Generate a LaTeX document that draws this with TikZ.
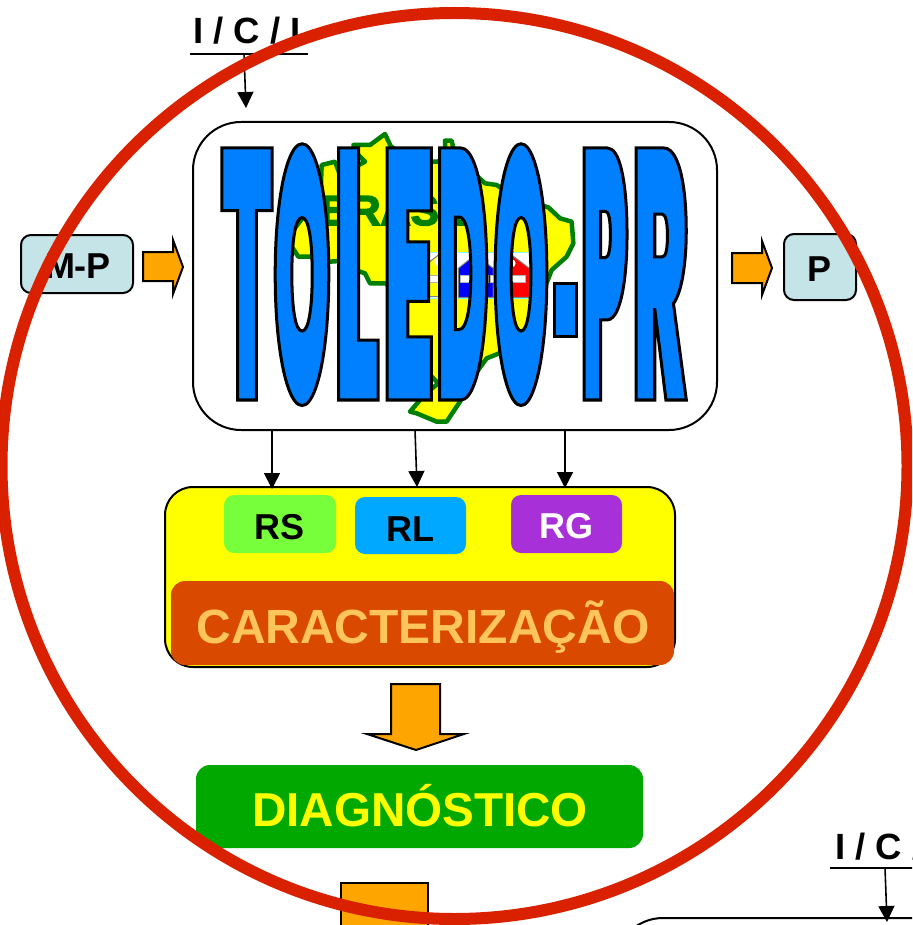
\documentclass[tikz,border=0pt]{standalone}
\usepackage{fontspec}
\setmainfont{Liberation Sans}
\usetikzlibrary{arrows.meta}
\definecolor{yellow}{HTML}{FFFF00}
\definecolor{wablue}{HTML}{0080FF}
\definecolor{ringred}{HTML}{D92100}
\definecolor{palecyan}{HTML}{C4E4E8}
\definecolor{blockorange}{HTML}{FFA500}
\definecolor{mapgreen}{HTML}{008000}
\definecolor{rsgreen}{HTML}{76FF3A}
\definecolor{rlblue}{HTML}{00A8FF}
\definecolor{rgpurple}{HTML}{A830D8}
\definecolor{carbg}{HTML}{D94A00}
\definecolor{cartext}{HTML}{FFC55A}
\definecolor{diagbg}{HTML}{00A800}
\definecolor{stripcyan}{HTML}{80FFFF}
\definecolor{stripgreen}{HTML}{60B080}
\newsavebox{\wabox}
% name, centre x, width, letter, font size, baseline y
\newcommand{\wordart}[6]{%
  \node[inner sep=0pt,outer sep=0pt,anchor=base] (#1) at (#2,#6)
    {\sbox{\wabox}{\fontspec{Poppins Black}\fontsize{#5}{#5}\selectfont #4}%
     \pgfmathsetmacro{\waratio}{#3/\the\wd\wabox}%
     \edef\wafam{\noexpand\fontspec[FakeStretch=\waratio]{Poppins Black}}\wafam\fontsize{#5}{#5}\selectfont\color{wablue}\special{pdf:code 0 0 0 RG 3 w 2 Tr}#4\special{pdf:code 0 Tr}};}
\tikzset{
  x=1pt,y=-1pt,
  labelbox/.style={draw=black,line width=2pt,outer sep=0pt,rounded corners=10pt,inner sep=0pt,anchor=north west},
  softbox/.style={rounded corners=10pt,outer sep=0pt,inner sep=0pt,anchor=north west},
  bigtext/.style={inner sep=0pt,anchor=base,font=\bfseries\fontsize{36}{36}\selectfont},
  wire/.style={draw=black,line width=1.6pt,-{Triangle[width=16pt,length=16pt]}},
  rule/.style={draw=black,line width=1.6pt},
  blockarrow/.style={draw=black,line width=2pt,fill=blockorange,miter limit=10},
  mapshape/.style={draw=mapgreen,line width=4.5pt,fill=yellow,line join=round}
}
\begin{document}
\begin{tikzpicture}
\useasboundingbox (0,0) rectangle (912,925);
\clip (0,0) rectangle (912,925);
\fill[white] (0,0) rectangle (912,925);
% main box
\node[labelbox,rounded corners=48pt,fill=white,minimum width=524pt,minimum height=308pt] (main) at (193,122) {};
% map of Brazil
\begin{scope}[shift={(190,120)},x=0.33333pt,y=-0.33333pt]
\draw[mapshape] (490,75)--(540,75)--(585,42)--(602,78)--(640,110)--(720,125)--(745,125)--(765,100)--(765,62)--(785,62)--(790,85)--(830,140)--(885,190)--(920,195)--(980,235)--(1075,262)--(1110,295)--(1145,305)--(1150,370)--(1130,410)--(1085,450)--(1050,540)--(1020,620)--(990,675)--(890,715)--(850,770)--(810,845)--(770,905)--(740,905)--(680,880)--(660,875)--(690,840)--(720,810)--(745,790)--(720,765)--(680,700)--(650,660)--(645,590)--(625,570)--(590,490)--(540,490)--(525,460)--(495,450)--(490,420)--(420,425)--(360,410)--(325,410)--(305,380)--(310,330)--(345,285)--(390,270)--(395,135)--(435,125)--(450,165)--(525,125)--(500,100)--cycle;
% houses strip
\draw[draw=stripcyan,line width=1.5pt,fill=white] (640,398) rectangle (1020,536);
\fill[stripgreen] (640,524) rectangle (697,535);
\draw[draw=gray,line width=1pt,fill=yellow] (700,530)--(700,440)--(745,405)--(800,445)--(800,530)--cycle;
\draw[draw=gray,line width=1pt,fill=blue] (805,532)--(805,445)--(855,405)--(910,445)--(910,532)--cycle;
\draw[draw=gray,line width=1pt,fill=red] (910,532)--(910,445)--(965,405)--(1018,445)--(1018,532)--cycle;
\fill[white] (745,425) circle (12);
\fill[white] (965,430) circle (12);
\draw[draw=gray!60,fill=white] (715,465) rectangle (785,487);
\draw[draw=gray!60,fill=white] (810,465) rectangle (895,487);
\draw[draw=gray!60,fill=white] (900,465) rectangle (1005,487);
\end{scope}
\node[inner sep=0pt,anchor=base,font=\bfseries\fontsize{42}{42}\selectfont] (brasil) at (398,225) {\color{mapgreen}\special{pdf:code 0 0.5 0 RG 1.6 w 2 Tr}BRASIL\special{pdf:code 0 Tr}};
% wordart title
\wordart{lt}{247}{52}{T}{356}{400}
\wordart{lo}{302}{58}{O}{360}{403}
\wordart{ll}{357}{46}{L}{356}{400}
\wordart{le}{408.5}{52}{E}{356}{400}
\wordart{ld}{462.5}{53}{D}{356}{400}
\wordart{lox}{521}{56}{O}{360}{403}
\node[draw=black,line width=3pt,outer sep=0pt,fill=wablue,inner sep=0pt,minimum width=22pt,minimum height=53pt,anchor=north west] (dash) at (554,283) {};
\wordart{lp}{604.5}{48}{P}{356}{400}
\wordart{lr}{660}{56}{R}{356}{400}
% top label
\node[inner sep=0pt,anchor=base west,font=\bfseries\fontsize{36.5}{36.5}\selectfont] (ici) at (193,44) {I / C / I};
\coordinate (iciL) at (190,54); \coordinate (iciR) at (308,54); \coordinate (iciA) at (244,54); \coordinate (mainA) at (246,108);
\draw[rule] (iciL)--(iciR);
\draw[wire] (iciA)--(mainA);
% side boxes
\node[labelbox,fill=palecyan,minimum width=112pt,minimum height=58pt] (mp) at (21,235) {};
\node[bigtext] (mpt) at (78,278) {M-P};
\node[labelbox,fill=palecyan,minimum width=72pt,minimum height=66pt] (pb) at (784,234) {};
\node[bigtext] (pt) at (819,281) {P};
\draw[blockarrow] (143,252)--(173,252)--(173,240)--(183,267)--(173,294)--(173,281)--(143,281)--cycle;
\draw[blockarrow] (732,253)--(762,253)--(762,241)--(772,268)--(762,295)--(762,283)--(732,283)--cycle;
% caracterizacao group
\node[labelbox,rounded corners=28pt,fill=yellow,minimum width=510pt,minimum height=180pt] (group) at (165,487) {};
\coordinate (a1) at (272,430); \coordinate (b1) at (272,489);
\coordinate (a2) at (415,430); \coordinate (b2) at (417,487);
\coordinate (a3) at (565,430); \coordinate (b3) at (565,488);
\draw[wire] (a1)--(b1);
\draw[wire] (a2)--(b2);
\draw[wire] (a3)--(b3);
\node[softbox,fill=rsgreen,minimum width=112pt,minimum height=58pt] (rs) at (224,495) {};
\node[bigtext] (rst) at (280,539) {RS};
\node[softbox,fill=rlblue,minimum width=111pt,minimum height=57pt] (rl) at (355,497) {};
\node[bigtext] (rlt) at (410,541) {RL};
\node[softbox,fill=rgpurple,minimum width=111pt,minimum height=58pt] (rg) at (511,495) {};
\node[bigtext,text=white] (rgt) at (566,538) {RG};
\node[softbox,rounded corners=14pt,fill=carbg,minimum width=503pt,minimum height=84pt] (car) at (171,581) {};
\node[inner sep=0pt,anchor=base,text=cartext,font=\bfseries\fontsize{48}{48}\selectfont] (cart) at (423,643) {CARACTERIZAÇÃO};
% big arrow
\draw[blockarrow] (391,684)--(440,684)--(440,734)--(464,734)--(416,750)--(367,734)--(391,734)--cycle;
% diagnostico
\node[softbox,rounded corners=14pt,fill=diagbg,minimum width=447pt,minimum height=83pt] (diag) at (196,765) {};
\node[inner sep=0pt,anchor=base,text=yellow,font=\bfseries\fontsize{47.6}{48}\selectfont] (diagt) at (420,826) {DIAGNÓSTICO};
% bottom block
\draw[blockarrow] (341,930)--(341,883)--(428,883)--(428,930);
% bottom-right fragment
\node[labelbox,rounded corners=48pt,fill=white,minimum width=524pt,minimum height=308pt] (mainb) at (615,918) {};
\node[inner sep=0pt,anchor=base west,font=\bfseries\fontsize{36.5}{36.5}\selectfont] (icib) at (835,859) {I / C / I};
\coordinate (ibL) at (830,868); \coordinate (ibR) at (920,868); \coordinate (ibA) at (885,868); \coordinate (ibB) at (887,922);
\draw[rule] (ibL)--(ibR);
\draw[wire] (ibA)--(ibB);
% red ring
\draw[ringred,line width=12pt] (454.5,466) circle (453);
\end{tikzpicture}
\end{document}
